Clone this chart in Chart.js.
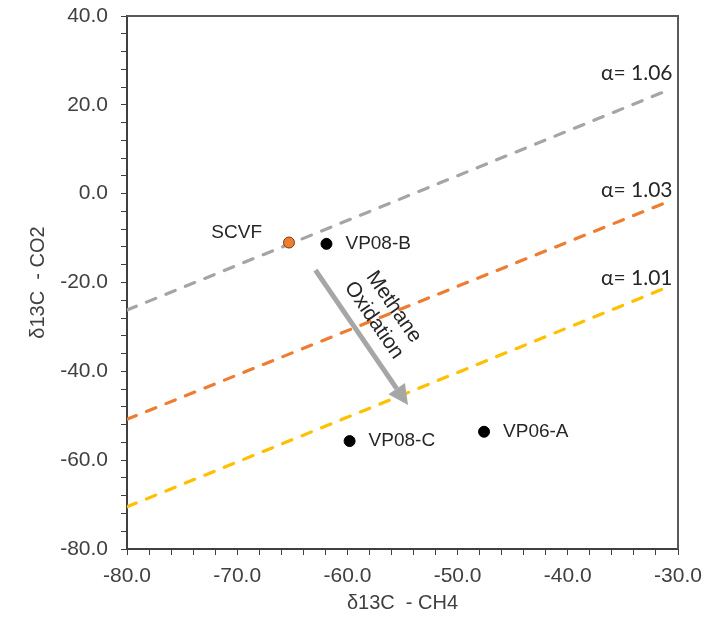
<!DOCTYPE html>
<html>
<head>
<meta charset="utf-8">
<script src="https://cdn.jsdelivr.net/npm/chart.js@4/dist/chart.umd.min.js"></script>
<style>
  html, body { margin: 0; padding: 0; background: #fff; }
  #wrap { width: 709px; height: 626px; }
</style>
</head>
<body>
<div id="wrap"><canvas id="iso-chart" width="709" height="626"></canvas></div>
<script>
/* ── δ13C CH4 vs CO2 散点图 ── */

// 采样点
const sampleNames = ['SCVF', 'VP08-B', 'VP08-C', 'VP06-A'];
const sampleCH4 = [-65.3, -61.9, -59.8, -47.6];
const sampleCO2 = [-11.0, -11.3, -55.7, -53.6];
const sampleColors = ['#ED7D31', '#000000', '#000000', '#000000'];

// 分馏线 (α)
const alphaLabels = ['α= 1.06', 'α= 1.03', 'α= 1.01'];
const alphaCH4 = [-80, -31];
const alphaCO2 = [
    [-26.2, 23.2],
    [-50.8, -1.9],
    [-70.5, -21.1],
];
const alphaColors = ['#A5A5A5', '#ED7D31', '#FFC000'];
const alphaLabelPos = [[-30.5, 27.2], [-30.5, 0.8], [-30.5, -19.0]];

// 甲烷氧化方向
const oxidationFrom = [-62.9, -17.2];
const oxidationTo = [-54.5, -47.6];
const oxidationText = ['Methane', 'Oxidation'];
const oxidationTextPos = [-56.7, -27.0];

// 坐标轴
const xMin = -80, xMax = -30, xStep = 2, xMajor = 10;
const yMin = -80, yMax = 40, yStep = 4, yMajor = 20;

const AXIS_COLOR = '#404040';
const TEXT_COLOR = '#404040';
const LABEL_COLOR = '#262626';

const labelOffsets = [[-27, -10, 'right'], [19, 0, 'left'], [19, 0, 'left'], [19, 0, 'left']];

const annotate = {
    id: 'annotate',
    afterDatasetsDraw(chart) {
        const { ctx, chartArea: a, scales: { x, y } } = chart;
        ctx.save();

        // 上、右边框
        ctx.strokeStyle = '#595959';
        ctx.lineWidth = 2;
        ctx.beginPath();
        ctx.moveTo(a.left, a.top);
        ctx.lineTo(a.right, a.top);
        ctx.lineTo(a.right, a.bottom);
        ctx.stroke();

        // 箭头
        const x0 = x.getPixelForValue(oxidationFrom[0]), y0 = y.getPixelForValue(oxidationFrom[1]);
        const x1 = x.getPixelForValue(oxidationTo[0]), y1 = y.getPixelForValue(oxidationTo[1]);
        const ang = Math.atan2(y1 - y0, x1 - x0);
        const headLen = 20, headW = 10;
        const bx = x1 - headLen * Math.cos(ang), by = y1 - headLen * Math.sin(ang);
        ctx.strokeStyle = '#A6A6A6';
        ctx.fillStyle = '#A6A6A6';
        ctx.lineWidth = 5;
        ctx.beginPath();
        ctx.moveTo(x0, y0);
        ctx.lineTo(bx, by);
        ctx.stroke();
        ctx.beginPath();
        ctx.moveTo(x1, y1);
        ctx.lineTo(bx + headW * Math.sin(ang), by - headW * Math.cos(ang));
        ctx.lineTo(bx - headW * Math.sin(ang), by + headW * Math.cos(ang));
        ctx.closePath();
        ctx.fill();

        // 箭头旁文字
        ctx.fillStyle = LABEL_COLOR;
        ctx.font = '21px "Liberation Sans", Arial, sans-serif';
        ctx.textAlign = 'center';
        ctx.textBaseline = 'middle';
        ctx.save();
        ctx.translate(x.getPixelForValue(oxidationTextPos[0]), y.getPixelForValue(oxidationTextPos[1]));
        ctx.rotate(ang);
        ctx.fillText(oxidationText[0], 0, -12);
        ctx.fillText(oxidationText[1], 0, 12);
        ctx.restore();

        // 样点标签
        ctx.font = '19px "Liberation Sans", Arial, sans-serif';
        sampleNames.forEach((name, i) => {
            const [dx, dy, align] = labelOffsets[i];
            ctx.textAlign = align;
            ctx.fillText(name, x.getPixelForValue(sampleCH4[i]) + dx, y.getPixelForValue(sampleCO2[i]) + dy);
        });

        // α 标签
        ctx.font = '21px Lato, "Open Sans", sans-serif';
        ctx.textAlign = 'right';
        alphaLabels.forEach((t, i) => {
            ctx.fillText(t, x.getPixelForValue(alphaLabelPos[i][0]), y.getPixelForValue(alphaLabelPos[i][1]));
        });

        ctx.restore();
    },
};

const datasets = [{
    label: 'samples',
    data: sampleCH4.map((v, i) => ({ x: v, y: sampleCO2[i] })),
    backgroundColor: sampleColors,
    borderColor: ['#7a3a10', '#000', '#000', '#000'],
    borderWidth: 1,
    pointRadius: 5.5,
    order: 0,
}];
alphaCO2.forEach((ys, i) => {
    datasets.push({
        label: alphaLabels[i],
        data: alphaCH4.map((v, j) => ({ x: v, y: ys[j] })),
        showLine: true,
        borderColor: alphaColors[i],
        borderWidth: 3.2,
        borderDash: [10, 11],
        borderCapStyle: 'round',
        pointRadius: 0,
        order: 1,
    });
});

const tickFont = { family: '"Liberation Sans", Arial, sans-serif', size: 21 };

new Chart(document.getElementById('iso-chart'), {
    type: 'scatter',
    data: { datasets },
    plugins: [annotate],
    options: {
        responsive: false,
        animation: false,
        layout: { padding: { left: 0, top: 16, right: 31, bottom: 0 } },
        plugins: { legend: { display: false }, tooltip: { enabled: false } },
        scales: {
            x: {
                type: 'linear',
                min: xMin, max: xMax,
                afterFit: s => { s.height = 77; s.paddingLeft = 0; s.paddingRight = 0; },
                border: { display: true, color: AXIS_COLOR, width: 2 },
                grid: { drawOnChartArea: false, drawTicks: true, tickLength: 6, color: AXIS_COLOR },
                ticks: {
                    stepSize: xStep,
                    autoSkip: false,
                    maxRotation: 0,
                    padding: 9,
                    color: TEXT_COLOR,
                    font: tickFont,
                    callback: v => (Math.abs(v % xMajor) < 1e-9 ? v.toFixed(1) : ''),
                },
                title: {
                    display: true,
                    text: 'δ13C  - CH4',
                    color: TEXT_COLOR,
                    font: { family: '"Liberation Sans", Arial, sans-serif', size: 20 },
                    padding: { top: 0, bottom: 11 },
                },
            },
            y: {
                type: 'linear',
                min: yMin, max: yMax,
                afterFit: s => { s.width = 127; s.paddingTop = 0; s.paddingBottom = 0; },
                border: { display: true, color: AXIS_COLOR, width: 2 },
                grid: { drawOnChartArea: false, drawTicks: true, tickLength: 6, color: AXIS_COLOR },
                ticks: {
                    stepSize: yStep,
                    autoSkip: false,
                    padding: 13,
                    color: TEXT_COLOR,
                    font: tickFont,
                    callback: v => (Math.abs(v % yMajor) < 1e-9 ? v.toFixed(1) : ''),
                },
                title: {
                    display: true,
                    text: 'δ13C  - CO2',
                    color: TEXT_COLOR,
                    font: { family: '"Liberation Sans", Arial, sans-serif', size: 20 },
                    padding: { top: 26, bottom: 0 },
                },
            },
        },
    },
});
</script>
</body>
</html>
